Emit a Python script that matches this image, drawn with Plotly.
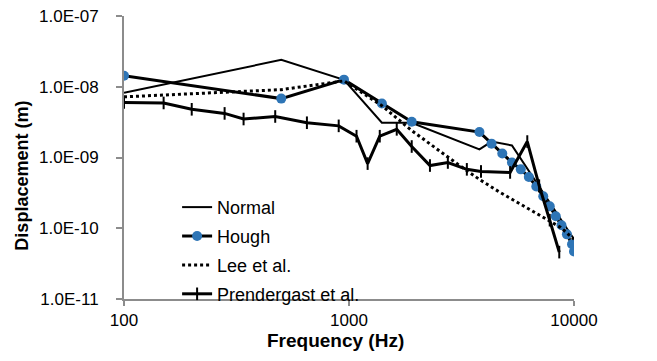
import plotly.graph_objects as go

# ---- data ----
normal_f = [100, 500, 950, 1400, 1900, 3800, 4300, 5300, 10000]
normal_d = [8.2e-9, 2.4e-8, 1.25e-8, 3.1e-9, 3.1e-9, 1.3e-9, 1.68e-9, 1.48e-9, 7.0e-11]

hough_f = [100, 500, 950, 1400, 1900, 3800, 4300, 4800, 5300, 5800, 6300,
           6800, 7300, 7800, 8300, 8800, 9300, 9800, 10000]
hough_d = [1.43e-8, 6.8e-9, 1.26e-8, 5.8e-9, 3.2e-9, 2.29e-9, 1.57e-9, 1.14e-9,
           8.5e-10, 6.8e-10, 5.3e-10, 3.9e-10, 2.83e-10, 2.04e-10, 1.48e-10,
           1.10e-10, 8.2e-11, 5.95e-11, 4.7e-11]

lee_f = [100, 500, 950, 1400, 1900, 2500, 3100, 3800, 4700, 5800, 7100, 8700, 10000]
lee_d = [7.2e-9, 9.1e-9, 1.21e-8, 5.4e-9, 2.4e-9, 1.26e-9, 7.7e-10, 4.9e-10,
         3.2e-10, 2.18e-10, 1.52e-10, 1.03e-10, 7.0e-11]

pren_f = [100, 150, 200, 280, 340, 470, 650, 900, 1080, 1210, 1370, 1630, 1900,
          2290, 2750, 3340, 3860, 5200, 6200, 7000, 7800, 8600]
pren_d = [6.0e-9, 5.9e-9, 4.8e-9, 4.2e-9, 3.5e-9, 3.8e-9, 3.1e-9, 2.8e-9, 2.0e-9,
          8.2e-10, 2.0e-9, 2.5e-9, 1.43e-9, 7.7e-10, 8.5e-10, 6.8e-10, 6.35e-10,
          6.15e-10, 1.68e-9, 4.0e-10, 1.3e-10, 4.6e-11]

x_tickvals = [100, 1000, 10000]
x_ticktext = ["100", "1000", "10000"]
y_tickvals = [1e-11, 1e-10, 1e-9, 1e-8, 1e-7]
y_ticktext = ["1.0E-11", "1.0E-10", "1.0E-09", "1.0E-08", "1.0E-07"]
x_title = "Frequency (Hz)"
y_title = "Displacement (m)"

FONT = "Liberation Sans, Arial, sans-serif"
BLUE = "#2E75B6"
AXIS = "#8C8C8C"

fig = go.Figure()
fig.add_trace(go.Scatter(x=normal_f, y=normal_d, name="Normal", mode="lines",
                         line=dict(color="black", width=2), legendgroup="a"))
fig.add_trace(go.Scatter(x=hough_f, y=hough_d, name="Hough", mode="lines+markers",
                         line=dict(color="black", width=3),
                         marker=dict(color=BLUE, size=10, symbol="circle"),
                         legendgroup="b"))
fig.add_trace(go.Scatter(x=lee_f, y=lee_d, name="Lee et al.", mode="lines",
                         line=dict(color="black", width=3, dash="dot"),
                         legendgroup="c"))
fig.add_trace(go.Scatter(x=pren_f, y=pren_d, name="Prendergast et al.",
                         mode="lines+markers",
                         line=dict(color="black", width=3),
                         marker=dict(color="black", size=9, symbol="line-ns",
                                     line=dict(color="black", width=2)),
                         legendgroup="d"))

# page body has an 8px default margin, so the figure is 8px smaller and shifted
fig.update_layout(
    width=649, height=353,
    margin=dict(l=116, r=83, t=8, b=62, autoexpand=False),
    paper_bgcolor="white", plot_bgcolor="white",
    font=dict(family=FONT, size=17, color="black"),
    showlegend=True,
    legend=dict(x=0.118, y=0.389, xanchor="left", yanchor="top",
                bgcolor="rgba(0,0,0,0)", font=dict(size=18, family=FONT),
                tracegroupgap=2.5, traceorder="grouped"),
    xaxis=dict(type="log", range=[2, 4], showline=True, linecolor=AXIS, linewidth=2,
               ticks="outside", ticklen=5, tickcolor=AXIS, tickwidth=1.5,
               tickvals=x_tickvals, ticktext=x_ticktext, showgrid=False,
               zeroline=False, automargin=False, ticklabeloverflow="allow",
               tickfont=dict(size=17, family=FONT)),
    yaxis=dict(type="log", range=[-11, -7], showline=True, linecolor=AXIS, linewidth=2,
               ticks="outside", ticklen=6, tickcolor=AXIS, tickwidth=1.5,
               tickvals=y_tickvals, ticktext=y_ticktext, showgrid=False,
               zeroline=False, automargin=False, ticklabeloverflow="allow",
               tickfont=dict(size=17, family=FONT), ticklabelstandoff=14),
    annotations=[
        dict(text="<b>" + x_title + "</b>", xref="paper", yref="paper",
             x=0.471, y=-0.145, xanchor="center", yanchor="middle",
             showarrow=False, font=dict(size=19, family=FONT)),
        dict(text="<b>" + y_title + "</b>", xref="paper", yref="paper",
             x=-0.226, y=0.437, xanchor="center", yanchor="middle", textangle=-90,
             showarrow=False, font=dict(size=18, family=FONT)),
    ],
)

fig.write_html("out.html")
